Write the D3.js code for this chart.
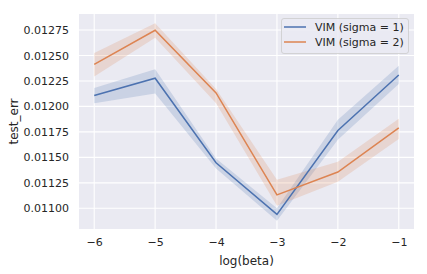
<!DOCTYPE html>
<html>
<head>
<meta charset="utf-8">
<script src="https://cdn.jsdelivr.net/npm/d3@7"></script>
<style>
  body { margin: 0; background: #fff; }
  svg text { font-family: "DejaVu Sans", sans-serif; fill: #262626; }
</style>
</head>
<body>
<div id="chart"></div>
<script>
'use strict';

// log(beta) values on the x axis
const logBeta = [-6, -5, -4, -3, -2, -1];

// sigma = 1 : mean and confidence band
const sigma1Mean = [0.012108, 0.012277, 0.011447, 0.010941, 0.011763, 0.012309];
const sigma1Low  = [0.012030, 0.012128, 0.011390, 0.010878, 0.011674, 0.012220];
const sigma1High = [0.012180, 0.012365, 0.011490, 0.011000, 0.011870, 0.012400];

// sigma = 2 : mean and confidence band
const sigma2Mean = [0.012412, 0.012747, 0.012132, 0.011132, 0.011356, 0.011789];
const sigma2Low  = [0.012294, 0.012674, 0.012030, 0.011024, 0.011260, 0.011681];
const sigma2High = [0.012524, 0.012816, 0.012170, 0.011280, 0.011457, 0.011878];

const xTicks = [-6, -5, -4, -3, -2, -1];
const yTicks = [0.01100, 0.01125, 0.01150, 0.01175, 0.01200, 0.01225, 0.01250, 0.01275];

const seriesNames = ["VIM (sigma = 1)", "VIM (sigma = 2)"];
const seriesColors = ["#4c72b0", "#dd8452"];

const W = 427, H = 274;
const plot = { left: 79, right: 414, top: 14, bottom: 229 };

const svg = d3.select("#chart").append("svg")
    .attr("width", W)
    .attr("height", H);

const x = d3.scaleLinear()
    .domain([-6.25, -0.75])
    .range([plot.left, plot.right]);

const y = d3.scaleLinear()
    .domain([0.010797, 0.012907])
    .range([plot.bottom, plot.top]);

// background
svg.append("rect")
    .attr("x", plot.left)
    .attr("y", plot.top)
    .attr("width", plot.right - plot.left)
    .attr("height", plot.bottom - plot.top)
    .attr("fill", "#eaeaf2");

// grid
svg.append("g").selectAll("line")
    .data(xTicks).enter().append("line")
    .attr("x1", d => x(d)).attr("x2", d => x(d))
    .attr("y1", plot.top).attr("y2", plot.bottom)
    .attr("stroke", "#fff").attr("stroke-width", 1.1);

svg.append("g").selectAll("line")
    .data(yTicks).enter().append("line")
    .attr("y1", d => y(d)).attr("y2", d => y(d))
    .attr("x1", plot.left).attr("x2", plot.right)
    .attr("stroke", "#fff").attr("stroke-width", 1.1);

// axes (labels only, no domain or tick lines)
const xAxis = svg.append("g")
    .attr("transform", "translate(0," + plot.bottom + ")")
    .call(d3.axisBottom(x).tickValues(xTicks).tickSize(0).tickPadding(9)
        .tickFormat(d => "\u2212" + Math.abs(d)));
xAxis.select(".domain").remove();
xAxis.selectAll("text").style("font-size", "11px").attr("fill", "#262626");

const yAxis = svg.append("g")
    .attr("transform", "translate(" + plot.left + ",0)")
    .call(d3.axisLeft(y).tickValues(yTicks).tickSize(0).tickPadding(10)
        .tickFormat(d3.format(".5f")));
yAxis.select(".domain").remove();
yAxis.selectAll("text").style("font-size", "11px").attr("fill", "#262626");

// axis titles
svg.append("text")
    .attr("x", (plot.left + plot.right) / 2)
    .attr("y", 265)
    .attr("text-anchor", "middle")
    .style("font-size", "12px")
    .text("log(beta)");

svg.append("text")
    .attr("transform", "translate(17.5," + ((plot.top + plot.bottom) / 2) + ") rotate(-90)")
    .attr("text-anchor", "middle")
    .style("font-size", "12px")
    .text("test_err");

const series = [
    { mean: sigma1Mean, low: sigma1Low, high: sigma1High },
    { mean: sigma2Mean, low: sigma2Low, high: sigma2High }
];

const area = d3.area()
    .x(d => x(d.x))
    .y0(d => y(d.lo))
    .y1(d => y(d.hi));

const line = d3.line()
    .x(d => x(d.x))
    .y(d => y(d.m));

svg.append("clipPath").attr("id", "clip")
    .append("rect")
    .attr("x", plot.left).attr("y", plot.top)
    .attr("width", plot.right - plot.left).attr("height", plot.bottom - plot.top);

const toPoints = s => logBeta.map((b, j) => ({ x: b, m: s.mean[j], lo: s.low[j], hi: s.high[j] }));

series.forEach((s, i) => {
    svg.append("path")
        .datum(toPoints(s))
        .attr("d", area)
        .attr("fill", seriesColors[i])
        .attr("fill-opacity", 0.2)
        .attr("clip-path", "url(#clip)");
});

series.forEach((s, i) => {
    svg.append("path")
        .datum(toPoints(s))
        .attr("d", line)
        .attr("fill", "none")
        .attr("stroke", seriesColors[i])
        .attr("stroke-width", 1.5)
        .attr("clip-path", "url(#clip)");
});

// legend
const legend = svg.append("g");
legend.append("rect")
    .attr("x", 281.5).attr("y", 18.5)
    .attr("width", 127).attr("height", 35)
    .attr("rx", 2.5)
    .attr("fill", "#eaeaf2")
    .attr("fill-opacity", 0.8)
    .attr("stroke", "#cccccc")
    .attr("stroke-opacity", 0.8);

seriesNames.forEach((name, i) => {
    const ly = 27 + i * 15;
    legend.append("line")
        .attr("x1", 284).attr("x2", 306)
        .attr("y1", ly).attr("y2", ly)
        .attr("stroke", seriesColors[i])
        .attr("stroke-width", 1.5);
    legend.append("text")
        .attr("x", 315).attr("y", ly)
        .attr("dy", "0.35em")
        .style("font-size", "11px")
        .text(name);
});
</script>
</body>
</html>
